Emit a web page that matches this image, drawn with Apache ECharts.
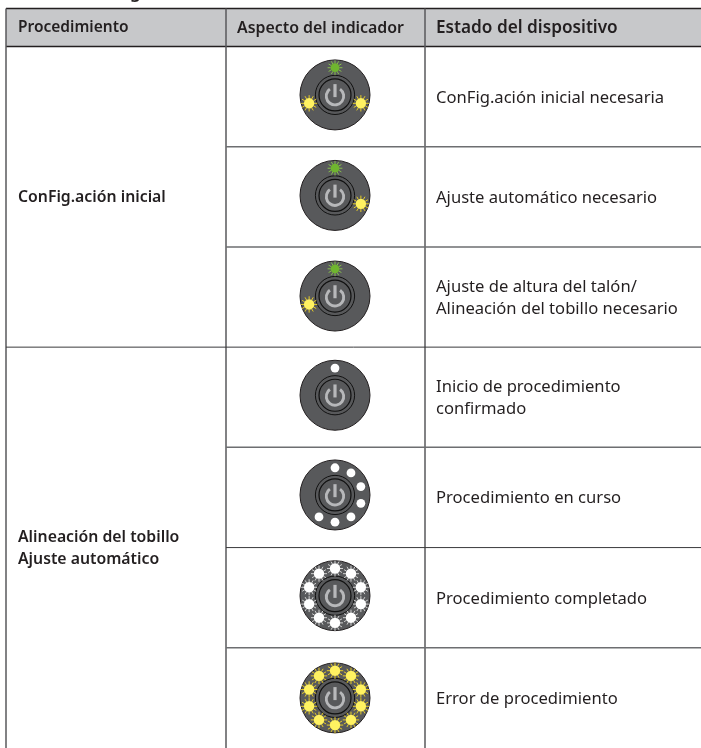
<!DOCTYPE html>
<html><head><meta charset="utf-8">
<style>html,body{margin:0;padding:0;background:#fff}#c{width:701px;height:748px;overflow:hidden}</style>
<script src="https://cdn.jsdelivr.net/npm/echarts@6/dist/echarts.min.js"></script>
</head><body><div id="c"></div>
<script>
const headerLabels = ['Procedimiento', 'Aspecto del indicador', 'Estado del dispositivo'];
const procedureLabels = ['ConFig.ación inicial', 'Alineación del tobillo\nAjuste automático'];
const procedureRowSpans = [3, 4];
const statusLabels = [
  'ConFig.ación inicial necesaria',
  'Ajuste automático necesario',
  'Ajuste de altura del talón/\nAlineación del tobillo necesario',
  'Inicio de procedimiento\nconfirmado',
  'Procedimiento en curso',
  'Procedimiento completado',
  'Error de procedimiento'
];
// LED ring, clockwise from the top: g green, y yellow, w white dot, W white glowing, . off
const ledRows = [
  'g..y...y..',
  'g..y......',
  'g......y..',
  'w.........',
  'wwwwwww...',
  'WWWWWWWWWW',
  'yyyyyyyyyy'
];
const clippedTitleFragment = 'g';
const columnEdges = [6, 226, 425, 701];
const iconNudge = [-1.7, -1.4, -1, -2, -2.5, -2, 0];
const gridTop = 46.5, gridHeight = 702.8, headerHeight = 38;
const ink = '#231f20';
const fontFamily = '"Noto Sans", sans-serif';
const ledStyles = {
  g: {core: '#6fb52f', ray: '#86bd4e', r: 4.4, rays: 7.4},
  y: {core: '#fff261', ray: '#e6cc27', r: 5.2, rays: 8.2},
  W: {core: '#ffffff', ray: '#d2d2d2', r: 5.2, rays: 8},
  w: {core: '#ffffff', r: 4.4}
};

function ledElements(cx, cy, code, idx) {
  const st = ledStyles[code], a = idx * Math.PI / 5;
  const x = cx + 27.2 * Math.sin(a), y = cy - 27.2 * Math.cos(a), out = [];
  if (st.ray) for (let k = 0; k < 12; k++) {
    const t = k * Math.PI / 6;
    out.push({type: 'line', shape: {
      x1: x + (st.r - 0.2) * Math.cos(t), y1: y + (st.r - 0.2) * Math.sin(t),
      x2: x + st.rays * Math.cos(t), y2: y + st.rays * Math.sin(t)},
      style: {stroke: st.ray, lineWidth: 1}});
  }
  out.push({type: 'circle', shape: {cx: x, cy: y, r: st.r}, style: {fill: st.core}});
  return out;
}

function renderRow(params, api) {
  const i = api.value(0);
  const c = api.coord([0, i]), band = api.size([0, 1])[1];
  const top = c[1] - band / 2, bottom = top + band, rowMid = c[1];
  const cy = rowMid + iconNudge[i];
  const iconX = api.coord([(columnEdges[1] + columnEdges[2]) / 2 + 9.5, i])[0];
  const textX = api.coord([columnEdges[2] + 11, i])[0];
  const kids = [];
  const spanEnd = procedureRowSpans.reduce((acc, n) => { acc.push((acc.length ? acc[acc.length - 1] : 0) + n); return acc; }, []);
  if (i < statusLabels.length - 1) {
    const full = spanEnd.includes(i + 1);
    kids.push({type: 'line', shape: {x1: api.coord([full ? columnEdges[0] : columnEdges[1], i])[0], y1: bottom, x2: 701, y2: bottom},
      style: {stroke: (i === 2 || i === 4) ? '#3a3a3c' : '#6d6e71', lineWidth: (i === 2 || i === 4) ? 1 : 1.5}});
  }
  kids.push({type: 'circle', shape: {cx: iconX, cy, r: 35}, style: {fill: '#58595b', stroke: ink, lineWidth: 1}});
  kids.push({type: 'circle', shape: {cx: iconX, cy, r: 19.6}, style: {fill: '#58595b', stroke: '#111', lineWidth: 1}});
  kids.push({type: 'circle', shape: {cx: iconX, cy, r: 16}, style: {fill: '#58595b', stroke: '#111', lineWidth: 1.2}});
  kids.push({type: 'arc', shape: {cx: iconX, cy: cy + 1.3, r: 8.7, startAngle: -Math.PI / 2 + 0.62, endAngle: 3 * Math.PI / 2 - 0.62, clockwise: true},
    style: {fill: null, stroke: '#b7b8ba', lineWidth: 2.9}});
  kids.push({type: 'line', shape: {x1: iconX, y1: cy - 10.8, x2: iconX, y2: cy + 2.2}, style: {stroke: '#b7b8ba', lineWidth: 3.2}});
  ledRows[i].split('').forEach((code, k) => {
    if (code !== '.') kids.push(...ledElements(iconX, cy, code, k));
  });
  kids.push({type: 'text', style: {x: textX, y: rowMid + 1.2, text: statusLabels[i], fill: ink, font: '16.6px ' + fontFamily,
    verticalAlign: 'middle', align: 'left', lineHeight: 22.5}});
  return {type: 'group', children: kids};
}

function renderFrame(params, api) {
  const c0 = api.coord([0, 0]), band = api.size([0, 1])[1];
  const top = c0[1] - band / 2, hTop = top - headerHeight;
  const X = columnEdges.map(v => api.coord([v, 0])[0]);
  const kids = [
    {type: 'rect', shape: {x: X[0], y: hTop, width: X[3] - X[0], height: headerHeight}, style: {fill: '#c7c8ca'}},
    {type: 'line', shape: {x1: X[0], y1: hTop, x2: X[3], y2: hTop}, style: {stroke: ink, lineWidth: 1.5}},
    {type: 'line', shape: {x1: X[0], y1: top, x2: X[3], y2: top}, style: {stroke: ink, lineWidth: 1.5}}
  ];
  [0, 1, 2].forEach(k => kids.push({type: 'line', shape: {x1: X[k], y1: hTop, x2: X[k], y2: 748}, style: {stroke: '#58595b', lineWidth: 1.5}}));
  const headerSizes = [15.5, 15.9, 17.2];
  const headerX = [18, 237, 436];
  headerLabels.forEach((t, k) => kids.push({type: 'text', style: {x: api.coord([headerX[k], 0])[0], y: top - headerHeight / 2 + 0.5, text: t, fill: ink,
    font: '600 ' + headerSizes[k] + 'px ' + fontFamily, verticalAlign: 'middle', align: 'left'}}));
  let r = 0;
  procedureLabels.forEach((t, k) => {
    const n = procedureRowSpans[k];
    kids.push({type: 'text', style: {x: api.coord([18, 0])[0], y: top + band * (r + n / 2) + 1, text: t, fill: ink,
      font: '600 15.8px ' + fontFamily, verticalAlign: 'middle', align: 'left', lineHeight: 22}});
    r += n;
  });
  kids.push({type: 'text', style: {x: api.coord([130, 0])[0], y: -6.5, text: clippedTitleFragment, fill: ink,
    font: '600 17px ' + fontFamily, verticalAlign: 'middle', align: 'left'}});
  return {type: 'group', children: kids};
}

const chart = echarts.init(document.getElementById('c'), null, {renderer: 'canvas', width: 701, height: 748});
chart.setOption({
  animation: false,
  backgroundColor: '#ffffff',
  grid: {left: 0, top: gridTop, width: 701, height: gridHeight, containLabel: false},
  xAxis: {type: 'value', min: 0, max: 701, show: false},
  yAxis: {type: 'category', inverse: true, show: false, data: statusLabels},
  series: [
    {type: 'custom', renderItem: renderRow, z: 3, silent: true, clip: false, data: statusLabels.map((s, i) => [i]), encode: {y: 0}},
    {type: 'custom', renderItem: renderFrame, z: 2, silent: true, clip: false, data: [[0]]}
  ]
});
</script></body></html>
